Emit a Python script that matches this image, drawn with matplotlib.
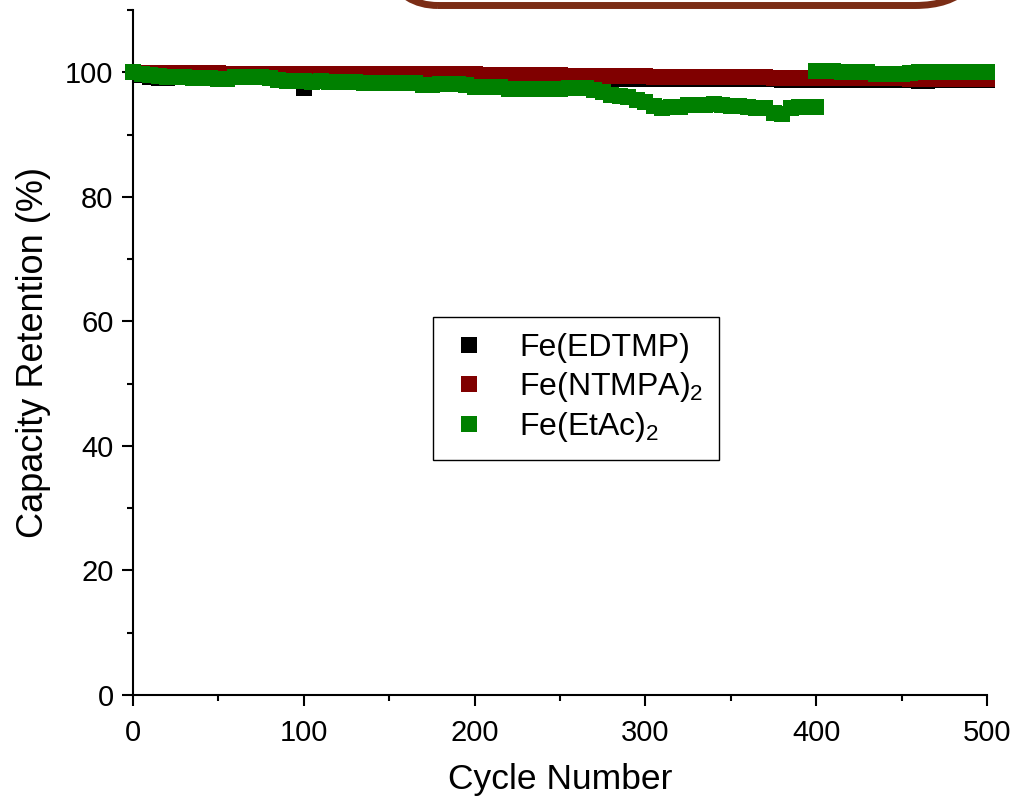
import numpy as np
import matplotlib
matplotlib.use('Agg')
from matplotlib import pyplot as pl
from matplotlib.patches import FancyBboxPatch
from matplotlib.ticker import MultipleLocator

matplotlib.rcParams.update({'font.family': 'Liberation Sans',
                            'mathtext.default': 'regular'})

blackCol = '#000000'
redCol = '#800000'
greenCol = '#008000'
boxCol = '#7B2D16'

# cycle numbers, every 5 cycles
cycles = np.arange(0, 501, 5)

edtmp = [100.0, 99.5, 99.3, 99.1, 99.1, 99.2, 99.2, 99.2, 99.2, 99.2,
         99.2, 99.2, 99.2, 99.2, 99.2, 99.2, 99.2, 99.2, 99.2, 99.2,
         97.5, 99.2, 99.2, 99.2, 99.2, 99.2, 99.2, 99.2, 99.2, 99.2,
         99.1, 99.1, 99.1, 99.1, 99.1, 99.1, 99.1, 99.1, 99.1, 99.1,
         99.1, 99.1, 99.1, 99.1, 99.1, 99.1, 99.1, 99.1, 99.1, 99.1,
         99.0, 99.0, 99.0, 99.0, 99.0, 99.0, 98.9, 98.9, 98.9, 98.9,
         98.9, 98.9, 98.9, 98.9, 98.9, 98.9, 98.9, 98.9, 98.9, 98.9,
         98.9, 98.9, 98.9, 98.9, 98.9, 98.9, 98.8, 98.8, 98.8, 98.8,
         98.8, 98.8, 98.8, 98.8, 98.8, 98.8, 98.8, 98.8, 98.8, 98.8,
         98.7, 98.7, 98.6, 98.6, 98.7, 98.7, 98.7, 98.7, 98.8, 98.7,
         98.7]

ntmpa = [100.0, 99.9, 99.9, 99.9, 99.9, 99.9, 99.9, 99.9, 99.9, 99.9,
         99.9, 99.8, 99.8, 99.8, 99.8, 99.8, 99.8, 99.8, 99.8, 99.8,
         99.8, 99.8, 99.8, 99.8, 99.8, 99.8, 99.7, 99.7, 99.7, 99.7,
         99.7, 99.7, 99.7, 99.7, 99.7, 99.7, 99.7, 99.7, 99.7, 99.7,
         99.7, 99.5, 99.5, 99.5, 99.5, 99.5, 99.5, 99.5, 99.5, 99.5,
         99.5, 99.4, 99.4, 99.4, 99.4, 99.4, 99.4, 99.4, 99.4, 99.4,
         99.4, 99.3, 99.3, 99.3, 99.3, 99.3, 99.3, 99.3, 99.3, 99.3,
         99.3, 99.3, 99.3, 99.3, 99.3, 99.1, 99.1, 99.1, 99.1, 99.1,
         99.1, 99.1, 99.1, 99.1, 99.1, 99.1, 99.1, 99.1, 99.1, 99.1,
         99.1, 98.9, 98.9, 98.9, 98.9, 98.9, 98.9, 98.9, 98.9, 98.9,
         98.9]

# Fe(EtAc)2: first run up to cycle 400, second run from 400 on
etacCycles1 = np.arange(0, 401, 5)
etac1 = [100.0, 99.8, 99.6, 99.4, 99.3, 99.3, 99.2, 99.1, 99.1, 99.1,
         99.0, 99.0, 99.2, 99.3, 99.3, 99.2, 99.1, 98.7, 98.6, 98.6,
         98.6, 98.5, 98.6, 98.5, 98.5, 98.5, 98.4, 98.3, 98.3, 98.3,
         98.3, 98.3, 98.3, 98.2, 98.0, 98.0, 98.1, 98.1, 98.1, 98.0,
         97.7, 97.7, 97.7, 97.6, 97.3, 97.3, 97.3, 97.3, 97.3, 97.3,
         97.3, 97.4, 97.4, 97.4, 97.2, 96.8, 96.3, 96.2, 96.1, 95.6,
         95.2, 94.6, 94.3, 94.4, 94.5, 94.7, 94.7, 94.7, 94.9, 94.8,
         94.6, 94.6, 94.5, 94.3, 94.2, 93.4, 93.3, 94.3, 94.5, 94.5,
         94.4]
etacCycles2 = np.arange(400, 501, 5)
etac2 = [100.2, 100.2, 100.2, 100.1, 100.1, 100.1, 100.0, 99.8, 99.8, 99.8,
         99.8, 99.9, 100.0, 100.0, 100.0, 100.1, 100.1, 100.1, 100.1, 100.0,
         100.0]

fig = pl.figure(figsize=(10.1, 8.02), dpi=100)
ax = fig.add_axes([133/1010, 1 - 695/802, 854/1010, 685/802])

ms = 11.5
ax.plot(cycles, edtmp, 's', ms=ms, mew=0, color=blackCol, clip_on=False,
        zorder=3, label='Fe(EDTMP)')
ax.plot(cycles, ntmpa, 's', ms=ms, mew=0, color=redCol, clip_on=False,
        zorder=4, label=r'Fe(NTMPA)$_2$')
ax.plot(np.concatenate((etacCycles1, etacCycles2)), etac1 + etac2, 's', ms=ms,
        mew=0, color=greenCol, clip_on=False, zorder=5, label=r'Fe(EtAc)$_2$')

ax.set_xlim(0, 500)
ax.set_ylim(0, 110)
ax.xaxis.set_major_locator(MultipleLocator(100))
ax.xaxis.set_minor_locator(MultipleLocator(50))
ax.yaxis.set_major_locator(MultipleLocator(20))
ax.yaxis.set_minor_locator(MultipleLocator(10))
ax.spines['top'].set_visible(False)
ax.spines['right'].set_visible(False)
for s in ['left', 'bottom']:
  ax.spines[s].set_linewidth(1.5)
ax.tick_params(which='both', direction='out', width=1.5, labelsize=21)
ax.tick_params(which='major', length=8)
ax.tick_params(which='minor', length=4)
ax.tick_params(axis='x', pad=9)
ax.tick_params(axis='y', pad=6)

ax.set_xlabel('Cycle Number', fontsize=25.5, labelpad=12)
ax.set_ylabel('Capacity Retention (%)', fontsize=26, labelpad=10)

leg = ax.legend(loc='lower left', bbox_to_anchor=(0.351, 0.343), fontsize=23,
                frameon=True, fancybox=False, framealpha=1, edgecolor='black',
                borderpad=0.5, handlelength=1.3, handletextpad=0.9,
                labelspacing=0.2, borderaxespad=0, markerscale=1.0)
leg.get_frame().set_linewidth(1.0)

# rounded box cut off at the top of the figure
box = FancyBboxPatch((3.68, 7.965), 6.17, 2.0,
                     boxstyle='round,pad=0,rounding_size=0.7',
                     transform=fig.dpi_scale_trans, facecolor='none',
                     edgecolor=boxCol, linewidth=5, clip_on=False)
fig.patches.append(box)

fig.savefig('out.png', dpi=100)
